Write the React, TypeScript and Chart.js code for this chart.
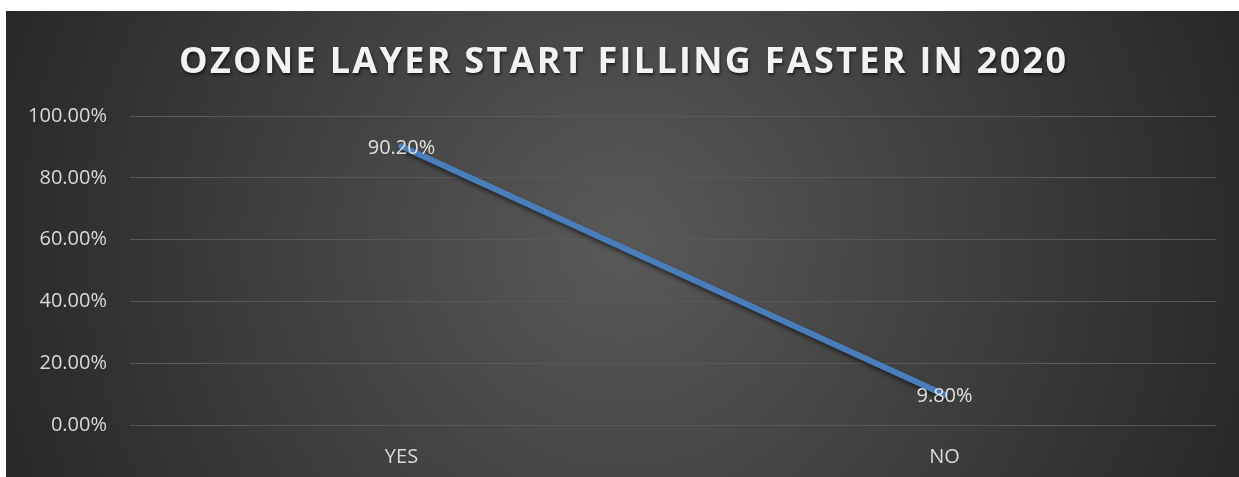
import React, { useEffect, useRef } from "react";
import { Chart, registerables } from "chart.js";

Chart.register(...registerables);

const categories = ["YES", "NO"];
const values = [90.2, 9.8];
const dataLabels = ["90.20%", "9.80%"];
const yTicks = [0, 20, 40, 60, 80, 100];
const titleText = "OZONE LAYER START FILLING FASTER IN 2020";

const bgPlugin = {
  id: "bgPlugin",
  beforeDraw(chart: any) {
    const { ctx, width, height } = chart;
    ctx.save();
    const cx = width / 2;
    const cy = height / 2;
    const g = ctx.createRadialGradient(cx, cy, 0, cx, cy, width * 0.55);
    g.addColorStop(0, "#595959");
    g.addColorStop(1, "#262626");
    ctx.fillStyle = g;
    ctx.fillRect(0, 0, width, height);
    ctx.restore();
  },
  afterDraw(chart: any) {
    const { ctx, width } = chart;
    ctx.save();
    ctx.font = "bold 36px 'Open Sans'";
    ctx.textAlign = "left";
    ctx.textBaseline = "middle";
    (ctx as any).letterSpacing = "0px";
    const w0 = ctx.measureText(titleText).width;
    const target = 887;
    const sp = Math.max(0, (target - w0) / (titleText.length - 1));
    (ctx as any).letterSpacing = sp + "px";
    const total = w0 + sp * (titleText.length - 1);
    const x = width / 2 - total / 2;
    ctx.shadowColor = "rgba(0,0,0,0.6)";
    ctx.shadowBlur = 3;
    ctx.shadowOffsetX = 1;
    ctx.shadowOffsetY = 2;
    ctx.fillStyle = "#f2f2f2";
    ctx.fillText(titleText, x, 52);
    ctx.restore();

    // data labels
    const meta = chart.getDatasetMeta(0);
    ctx.save();
    ctx.font = "20px 'Open Sans'";
    ctx.fillStyle = "#e0e0e0";
    ctx.textAlign = "center";
    ctx.textBaseline = "middle";
    meta.data.forEach((pt: any, i: number) => {
      ctx.fillText(dataLabels[i], pt.x, pt.y + 2);
    });
    ctx.restore();
  },
  beforeDatasetsDraw(chart: any) {
    const ctx = chart.ctx;
    ctx.save();
    ctx.shadowColor = "rgba(0,0,0,0.55)";
    ctx.shadowBlur = 4;
    ctx.shadowOffsetX = 1;
    ctx.shadowOffsetY = 3;
  },
  afterDatasetsDraw(chart: any) {
    chart.ctx.restore();
  },
};

export default function App() {
  const ref = useRef<HTMLCanvasElement>(null);
  useEffect(() => {
    if (!ref.current) return;
    const chart = new Chart(ref.current, {
      type: "line",
      data: {
        labels: categories,
        datasets: [
          {
            data: values,
            borderColor: "#4a7ebb",
            borderWidth: 6,
            borderCapStyle: "round",
            pointRadius: 0,
            pointHoverRadius: 0,
            tension: 0,
          },
        ],
      },
      options: {
        animation: false,
        responsive: false,
        maintainAspectRatio: false,
        layout: { padding: { top: 105, right: 23, left: 0, bottom: 0 } },
        plugins: {
          legend: { display: false },
          title: { display: false },
          tooltip: { enabled: false },
        },
        scales: {
          x: {
            offset: true,
            grid: { display: false, drawTicks: false },
            border: { display: false },
            ticks: {
              color: "#d9d9d9",
              font: { family: "'Open Sans'", size: 20 },
              padding: 20,
              maxRotation: 0,
            },
            afterFit(scale: any) {
              scale.height = 52;
            },
          },
          y: {
            min: 0,
            max: 100,
            afterBuildTicks(scale: any) {
              scale.ticks = yTicks.map((v) => ({ value: v }));
            },
            grid: { color: "#595959", lineWidth: 1, drawTicks: false },
            border: { display: false },
            ticks: {
              color: "#d9d9d9",
              font: { family: "'Open Sans'", size: 20 },
              padding: 23,
              callback: (v: any) => Number(v).toFixed(2) + "%",
            },
            afterFit(scale: any) {
              scale.width = 124;
            },
          },
        },
      },
      plugins: [bgPlugin],
    });
    return () => chart.destroy();
  }, []);
  return (
    <div style={{ position: "absolute", left: 6, top: 11, width: 1233, height: 466 }}>
      <canvas ref={ref} width={1233} height={466} style={{ display: "block" }} />
    </div>
  );
}
